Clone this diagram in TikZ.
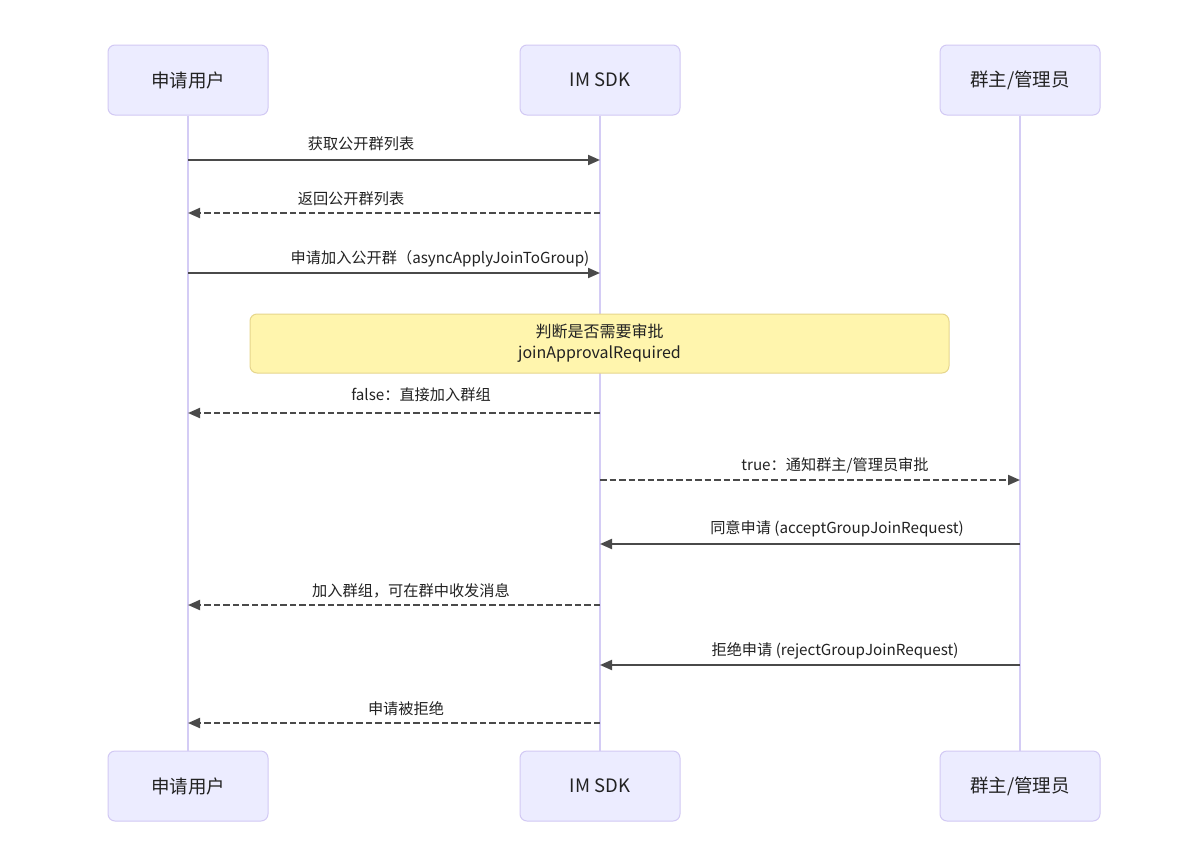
\documentclass[tikz,border=0pt]{standalone}
\usepackage{fontspec}
\setmainfont{Noto Sans CJK SC}
\usetikzlibrary{arrows.meta}
\definecolor{actfill}{HTML}{ECECFF}
\definecolor{actline}{HTML}{D2C9F4}
\definecolor{lifeln}{HTML}{D4CCF5}
\definecolor{arrcol}{HTML}{4A4A4A}
\definecolor{notefill}{HTML}{FFF5AD}
\definecolor{noteline}{HTML}{E6D68C}
\definecolor{txtcol}{HTML}{222222}
\begin{document}
\begin{tikzpicture}[x=1pt,y=-1pt,
  actor/.style={draw=actline,fill=actfill,line width=1pt,rounded corners=7pt,
    minimum width=160pt,minimum height=70pt,inner sep=0pt,
    font=\fontsize{18.5}{21}\selectfont,text=txtcol},
  life/.style={draw=lifeln,line width=1.3pt},
  msg/.style={draw=arrcol,line width=2pt,-{Triangle[length=12pt,width=10pt]}},
  ret/.style={msg,dash pattern=on 6.5pt off 3pt},
  lbl/.style={font=\fontsize{15.2}{18}\selectfont,text=txtcol,inner sep=0pt},
  notebox/.style={draw=noteline,fill=notefill,line width=1pt,rounded corners=7pt,
    minimum width=699pt,minimum height=59pt,inner sep=0pt,align=center,
    font=\fontsize{16}{21}\selectfont,text=txtcol}
]
\useasboundingbox (0,0) rectangle (1200,844);
\fill[white] (0,0) rectangle (1200,844);
% actors
\node[actor] (ua) at (188,80) {申请用户};
\node[actor] (sa) at (600,80) {IM SDK};
\node[actor] (ga) at (1020,80) {群主/管理员};
\node[actor] (ub) at (188,786) {申请用户};
\node[actor] (sb) at (600,786) {IM SDK};
\node[actor] (gb) at (1020,786) {群主/管理员};
% lifelines
\draw[life] (ua.south) -- (ub.north);
\draw[life] (sa.south) -- (sb.north);
\draw[life] (ga.south) -- (gb.north);
% messages
\draw[msg] (ua.south |- 0,160) -- (sa.south |- 0,160);
\node[lbl] (l1) at (361,144) {获取公开群列表};
\draw[ret] (sa.south |- 0,213) -- (ua.south |- 0,213);
\node[lbl] (l2) at (351,199) {返回公开群列表};
\draw[msg] (ua.south |- 0,273) -- (sa.south |- 0,273);
\node[lbl] (l3) at (440,259) {申请加入公开群（asyncApplyJoinToGroup)};
% note
\node[notebox] (note) at (599.5,343.5) {判断是否需要审批\\joinApprovalRequired};
\draw[ret] (sa.south |- 0,413) -- (ua.south |- 0,413);
\node[lbl] (l4) at (421,395) {false：直接加入群组};
\draw[ret] (sa.south |- 0,480) -- (ga.south |- 0,480);
\node[lbl] (l5) at (835,465) {true：通知群主/管理员审批};
\draw[msg] (ga.south |- 0,544) -- (sa.south |- 0,544);
\node[lbl] (l6) at (837,529) {同意申请 (acceptGroupJoinRequest)};
\draw[ret] (sa.south |- 0,605) -- (ua.south |- 0,605);
\node[lbl] (l7) at (411,591) {加入群组，可在群中收发消息};
\draw[msg] (ga.south |- 0,665) -- (sa.south |- 0,665);
\node[lbl] (l8) at (835,651) {拒绝申请 (rejectGroupJoinRequest)};
\draw[ret] (sa.south |- 0,723) -- (ua.south |- 0,723);
\node[lbl] (l9) at (406,709) {申请被拒绝};
\end{tikzpicture}
\end{document}
